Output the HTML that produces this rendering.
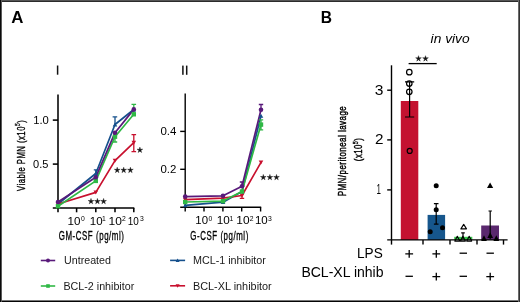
<!DOCTYPE html>
<html><head><meta charset="utf-8">
<style>
html,body{margin:0;padding:0;background:#fff;}
body{width:520px;height:302px;overflow:hidden;}
svg{display:block;will-change:transform;font-family:"Liberation Sans",sans-serif;}
</style></head>
<body>
<svg width="520" height="302" viewBox="0 0 520 302">
<defs>
<path id="st" d="M0.00,-3.00 L0.62,-0.85 L2.85,-0.93 L1.00,0.32 L1.76,2.43 L0.00,1.05 L-1.76,2.43 L-1.00,0.32 L-2.85,-0.93 L-0.62,-0.85Z" fill="#111" stroke="#111" stroke-width="0.4" stroke-linejoin="round"/>
</defs>
<rect x="0" y="0" width="520" height="302" fill="#fff"/>
<!-- borders -->
<g shape-rendering="crispEdges">
<rect x="0" y="0" width="520" height="1" fill="#555"/>
<rect x="0" y="1" width="520" height="1" fill="#2b2b2b"/>
<rect x="0" y="300" width="520" height="1" fill="#777"/>
<rect x="0" y="301" width="520" height="1" fill="#050505"/>
<rect x="1" y="0" width="1" height="302" fill="#5a5a5a"/>
<rect x="0" y="0" width="1" height="302" fill="#0a0a0a"/>
<rect x="518" y="0" width="1" height="302" fill="#6a6a6a"/>
<rect x="519" y="0" width="1" height="302" fill="#333"/>
</g>

<!-- ===== Chart I ===== -->
<rect x="56.85" y="65.5" width="1.5" height="9.2" fill="#111"/>
<rect x="182.15" y="65.6" width="1.5" height="9.2" fill="#111"/>
<rect x="185.95" y="65.6" width="1.5" height="9.2" fill="#111"/>
<g stroke="#000" stroke-width="1.55" fill="none">
  <line x1="58" y1="94.4" x2="58" y2="208"/>
  <line x1="52.8" y1="208" x2="134.3" y2="208"/>
  <line x1="52.8" y1="120.1" x2="58" y2="120.1"/>
  <line x1="52.8" y1="164.1" x2="58" y2="164.1"/>
  <line x1="58" y1="208" x2="58" y2="212.3"/>
  <line x1="76.6" y1="208" x2="76.6" y2="212.3"/>
  <line x1="95.8" y1="208" x2="95.8" y2="212.3"/>
  <line x1="115" y1="208" x2="115" y2="212.3"/>
  <line x1="133.8" y1="208" x2="133.8" y2="212.3"/>
</g>
<!-- data lines chart I -->
<g fill="none" stroke-width="1.7" stroke-linejoin="round">
  <polyline stroke="#15508c" points="58,204 95.8,173.5 115,124.5 133.8,109.5"/>
  <polyline stroke="#c8102e" points="58,204 95.8,192.4 115,160.6 133.8,142.6"/>
  <polyline stroke="#2fb845" points="58,206.2 95.8,180.9 115,136.7 133.8,114.3"/>
  <polyline stroke="#58197a" points="58,202 95.8,177.2 115,132.7 133.8,109.4"/>
</g>
<!-- error bars chart I -->
<g fill="none" stroke-width="1.3">
  <path stroke="#c8102e" d="M133.8,134.7V151.6M131.5,134.7H136.1M131.5,151.6H136.1"/>
  <path stroke="#2fb845" d="M133.8,104.4V114M131.5,104.4H136.1M115,136.7V142M112.8,142H117.2"/>
  <path stroke="#15508c" d="M115,116.8V124.5M112.6,116.8H117.2M95.8,169.8V173.5M93.8,169.8H97.8"/>
</g>
<!-- markers chart I -->
<g>
  <path fill="#15508c" d="M93.5,175.4H98.1L95.8,171.5Z M112.7,126.4H117.3L115,122.5Z M131.5,111.4H136.1L133.8,107.5Z"/>
  <path fill="#c8102e" d="M93.5,190.6H98.1L95.8,194.5Z M112.7,158.8H117.3L115,162.7Z M131.5,140.8H136.1L133.8,144.7Z M55.7,202.2H60.3L58,206.1Z"/>
  <rect fill="#2fb845" x="55.8" y="204" width="4.4" height="4.4"/>
  <rect fill="#2fb845" x="93.6" y="178.7" width="4.4" height="4.4"/>
  <rect fill="#2fb845" x="112.8" y="134.5" width="4.4" height="4.4"/>
  <rect fill="#2fb845" x="131.6" y="112.1" width="4.4" height="4.4"/>
  <circle fill="#58197a" cx="58" cy="202" r="2.3"/>
  <circle fill="#58197a" cx="95.8" cy="177.2" r="2.3"/>
  <circle fill="#58197a" cx="115" cy="132.7" r="2.3"/>
  <circle fill="#58197a" cx="133.8" cy="109.4" r="2.3"/>
</g>
<use href="#st" x="91" y="201.4"/><use href="#st" x="97.4" y="201.4"/><use href="#st" x="103.6" y="201.4"/>
<use href="#st" x="117.2" y="170.2"/><use href="#st" x="123.7" y="170.2"/><use href="#st" x="130.4" y="170.2"/>
<use href="#st" x="139.9" y="150.1"/>

<!-- ===== Chart II ===== -->
<g stroke="#000" stroke-width="1.4" fill="none">
  <line x1="185.2" y1="93.6" x2="185.2" y2="207.3"/>
  <line x1="180.2" y1="207.3" x2="261.2" y2="207.3"/>
  <line x1="180.2" y1="131.4" x2="185.2" y2="131.4"/>
  <line x1="180.2" y1="169.3" x2="185.2" y2="169.3"/>
  <line x1="185.2" y1="207.3" x2="185.2" y2="211.5"/>
  <line x1="204" y1="207.3" x2="204" y2="211.5"/>
  <line x1="222.9" y1="207.3" x2="222.9" y2="211.5"/>
  <line x1="241.7" y1="207.3" x2="241.7" y2="211.5"/>
  <line x1="260.6" y1="207.3" x2="260.6" y2="211.5"/>
</g>
<g fill="none" stroke-width="1.7" stroke-linejoin="round">
  <polyline stroke="#15508c" points="185.2,205.4 223,202.2 242,191.5 261,115.8"/>
  <polyline stroke="#c8102e" points="185.2,199.6 223,198.2 242,195.5 261,162.4"/>
  <polyline stroke="#2fb845" points="185.2,202 223,201.1 242,191.5 261,124.6"/>
  <polyline stroke="#58197a" points="185.2,196.6 223,195.8 242,186.2 261,109.7"/>
</g>
<g fill="none" stroke-width="1.3">
  <path stroke="#c8102e" d="M242,195.7V198.3M239.8,198.3H244.2"/>
  <path stroke="#2fb845" d="M261,119.8V129.8M258.8,119.8H263.2M258.8,129.8H263.2"/>
  <path stroke="#58197a" d="M261,104.5V109.9M258.8,104.5H263.2M242,182V185.8M239.8,182H244.2"/>
</g>
<g>
  <path fill="#15508c" d="M182.9,207.3H187.5L185.2,203.4Z M220.7,204.1H225.3L223,200.2Z M239.7,193.4H244.3L242,189.5Z M258.7,117.7H263.3L261,113.8Z"/>
  <path fill="#c8102e" d="M182.9,197.8H187.5L185.2,201.7Z M220.7,196.4H225.3L223,200.3Z M239.7,193.7H244.3L242,197.6Z M258.7,160.6H263.3L261,164.5Z"/>
  <rect fill="#2fb845" x="183" y="199.8" width="4.4" height="4.4"/>
  <rect fill="#2fb845" x="220.8" y="198.9" width="4.4" height="4.4"/>
  <rect fill="#2fb845" x="239.8" y="189.3" width="4.4" height="4.4"/>
  <rect fill="#2fb845" x="258.8" y="122.4" width="4.4" height="4.4"/>
  <circle fill="#58197a" cx="185.2" cy="196.6" r="2.3"/>
  <circle fill="#58197a" cx="223" cy="195.8" r="2.3"/>
  <circle fill="#58197a" cx="242" cy="186.2" r="2.3"/>
  <circle fill="#58197a" cx="261" cy="109.7" r="2.3"/>
</g>
<use href="#st" x="263.3" y="177.4"/><use href="#st" x="269.9" y="177.4"/><use href="#st" x="276.5" y="177.4"/>

<!-- ===== Legend ===== -->
<g stroke-width="1.6">
  <line x1="40.8" y1="260.5" x2="55.2" y2="260.5" stroke="#58197a"/>
  <line x1="40.8" y1="286" x2="55.2" y2="286" stroke="#2fb845"/>
  <line x1="170.1" y1="260.4" x2="185.1" y2="260.4" stroke="#15508c"/>
  <line x1="170.1" y1="285.8" x2="185.1" y2="285.8" stroke="#c8102e"/>
</g>
<circle cx="48" cy="260.5" r="2" fill="#58197a"/>
<rect x="46.2" y="284.2" width="3.6" height="3.6" fill="#2fb845"/>
<path d="M175.6,262H179.6L177.6,258.6Z" fill="#15508c"/>
<path d="M175.6,284.3H179.6L177.6,287.7Z" fill="#c8102e"/>

<!-- ===== Panel B ===== -->
<rect x="400.8" y="101" width="17.5" height="138.9" fill="#c41230"/>
<rect x="427.6" y="214.9" width="17.5" height="25" fill="#16568c"/>
<rect x="454.2" y="236.8" width="18.1" height="3.1" fill="#38c84c"/>
<rect x="481.2" y="225.5" width="17.8" height="14.4" fill="#5a286e"/>
<g stroke="#000" stroke-width="1.4" fill="none">
  <line x1="391.5" y1="65.3" x2="391.5" y2="239.9"/>
  <line x1="387.2" y1="239.9" x2="507.6" y2="239.9"/>
  <line x1="387.2" y1="90.2" x2="391.5" y2="90.2"/>
  <line x1="387.2" y1="139.9" x2="391.5" y2="139.9"/>
  <line x1="387.2" y1="189.9" x2="391.5" y2="189.9"/>
  <line x1="391.5" y1="239.9" x2="391.5" y2="244.6"/>
  <line x1="423" y1="239.9" x2="423" y2="244.6"/>
  <line x1="450" y1="239.9" x2="450" y2="244.6"/>
  <line x1="477" y1="239.9" x2="477" y2="244.6"/>
  <line x1="503.5" y1="239.9" x2="503.5" y2="244.6"/>
</g>
<g stroke="#000" stroke-width="1.2" fill="none">
  <path d="M409.6,81.9V117M405,81.9H414.2M405,117H414.2"/>
  <path d="M436.2,203.6V224.1M433.9,203.6H438.5M433.9,224.1H438.5"/>
  <path d="M463,232.8V239M461.2,232.8H464.8"/>
  <path d="M490.2,211V239M488.5,211H491.9"/>
</g>
<g fill="none" stroke="#000" stroke-width="1.2">
  <circle cx="409.3" cy="72.2" r="2.75"/>
  <circle cx="409.3" cy="83.6" r="2.75"/>
  <circle cx="409.3" cy="91.8" r="2.75"/>
  <circle cx="409.7" cy="150.9" r="2.5"/>
</g>
<g fill="#000">
  <circle cx="436.2" cy="185.7" r="2.5"/>
  <circle cx="436.2" cy="209.8" r="2.5"/>
  <circle cx="430.2" cy="231.7" r="2.5"/>
  <circle cx="442.5" cy="227.8" r="2.5"/>
</g>
<g fill="none" stroke="#000" stroke-width="1.1" stroke-linejoin="round">
  <path d="M463.7,224.4L466.5,228.9H460.9Z" fill="#fff"/>
  <path d="M457.3,236.2L459.8,241.1H454.8Z"/>
  <path d="M462.9,236.2L465.4,241.1H460.4Z"/>
  <path d="M469.2,236.2L471.7,241.1H466.7Z"/>
</g>
<g fill="#000">
  <path d="M490.1,182.6L493.2,187.9H487Z"/>
  <path d="M484,235.3L486.9,241H481.1Z"/>
  <path d="M490.2,232.3L493.1,238H487.3Z"/>
  <path d="M496.3,235.3L499.2,241H493.4Z"/>
</g>
<line x1="408.6" y1="63.6" x2="436.7" y2="63.6" stroke="#000" stroke-width="1.3"/>
<use href="#st" x="418.5" y="58.7"/><use href="#st" x="425.5" y="58.7"/>
<g stroke="#000" stroke-width="1.3">
  <path d="M405.3,253.9H413.1M409.2,250V257.8"/>
  <path d="M432.4,253.9H440.2M436.3,250V257.8"/>
  <path d="M459.6,253.2H467"/>
  <path d="M486.5,253.2H493.9"/>
  <path d="M405.5,276.3H412.9"/>
  <path d="M432.4,276.7H440.2M436.3,272.8V280.6"/>
  <path d="M459.6,276.3H467"/>
  <path d="M486.3,276.7H494.1M490.2,272.8V280.6"/>
</g>

<text transform="translate(11.17,22.70) scale(1.0522,1)" font-size="16" font-weight="bold" fill="#000" >A</text>
<text transform="translate(320.71,22.50) scale(0.9743,1)" font-size="16" font-weight="bold" fill="#000" >B</text>
<text transform="translate(33.21,123.90) scale(1.0449,1)" font-size="10.8" fill="#000" >1.0</text>
<text transform="translate(33.06,167.90) scale(1.0219,1)" font-size="10.8" fill="#000" >0.5</text>
<text transform="translate(160.44,134.70) scale(1.1065,1)" font-size="10.4" fill="#000" >0.4</text>
<text transform="translate(160.44,172.90) scale(1.1010,1)" font-size="10.4" fill="#000" >0.2</text>
<text transform="translate(67.50,224.80) scale(1.0562,1)" font-size="11" fill="#000" >10</text>
<text transform="translate(89.80,224.80) scale(1.0472,1)" font-size="11" fill="#000" >10</text>
<text transform="translate(108.47,224.80) scale(1.0920,1)" font-size="11" fill="#000" >10</text>
<text transform="translate(127.63,224.80) scale(0.9040,1)" font-size="11" fill="#000" >10</text>
<text transform="translate(81.02,220.90) scale(1.0000,1)" font-size="6.8" fill="#000" >0</text>
<text transform="translate(101.99,220.90) scale(1.0000,1)" font-size="6.8" fill="#000" >1</text>
<text transform="translate(121.99,220.90) scale(1.0000,1)" font-size="6.8" fill="#000" >2</text>
<text transform="translate(140.05,220.90) scale(1.0000,1)" font-size="6.8" fill="#000" >3</text>
<text transform="translate(195.31,224.40) scale(1.0383,1)" font-size="11" fill="#000" >10</text>
<text transform="translate(216.79,224.40) scale(1.0651,1)" font-size="11" fill="#000" >10</text>
<text transform="translate(236.37,224.40) scale(1.0830,1)" font-size="11" fill="#000" >10</text>
<text transform="translate(254.90,224.40) scale(1.0472,1)" font-size="11" fill="#000" >10</text>
<text transform="translate(208.42,220.50) scale(1.0000,1)" font-size="6.8" fill="#000" >0</text>
<text transform="translate(229.59,220.50) scale(1.0000,1)" font-size="6.8" fill="#000" >1</text>
<text transform="translate(249.64,220.50) scale(1.0000,1)" font-size="6.8" fill="#000" >2</text>
<text transform="translate(267.90,220.50) scale(1.0000,1)" font-size="6.8" fill="#000" >3</text>
<text transform="translate(58.77,240.30) scale(0.6310,1)" font-size="12.5" fill="#000" letter-spacing="0.9" stroke="#000" stroke-width="0.28" vector-effect="non-scaling-stroke">GM-CSF (pg/ml)</text>
<text transform="translate(190.37,240.30) scale(0.6297,1)" font-size="12.5" fill="#000" letter-spacing="0.9" stroke="#000" stroke-width="0.28" vector-effect="non-scaling-stroke">G-CSF (pg/ml)</text>
<text transform="translate(24.60,190.94) rotate(-90) scale(0.6724,1)" font-size="11.5" fill="#000" letter-spacing="0.7" stroke="#000" stroke-width="0.32" vector-effect="non-scaling-stroke">Viable PMN (x10<tspan font-size="7.5" dy="-4.2">5</tspan><tspan dy="4.2">)</tspan></text>
<text transform="translate(64.01,264.30) scale(0.9991,1)" font-size="10.7" fill="#1a1a1a" >Untreated</text>
<text transform="translate(63.47,289.80) scale(1.0015,1)" font-size="10.7" fill="#1a1a1a" >BCL-2 inhibitor</text>
<text transform="translate(192.97,264.30) scale(1.0069,1)" font-size="10.7" fill="#1a1a1a" >MCL-1 inhibitor</text>
<text transform="translate(192.96,289.80) scale(1.0176,1)" font-size="10.7" fill="#1a1a1a" >BCL-XL inhibitor</text>
<text transform="translate(430.62,43.20) scale(1.0213,1)" font-size="13.5" font-style="italic" fill="#000" >in vivo</text>
<text transform="translate(357.01,257.50) scale(0.9527,1)" font-size="14.3" fill="#000" >LPS</text>
<text transform="translate(301.38,277.30) scale(0.9824,1)" font-size="14.3" fill="#000" >BCL-XL inhib</text>
<text transform="translate(346.20,196.29) rotate(-90) scale(0.6757,1)" font-size="11.8" fill="#000" letter-spacing="0.7" stroke="#000" stroke-width="0.4" vector-effect="non-scaling-stroke">PMN/peritoneal lavage</text>
<text transform="translate(362.40,161.18) rotate(-90) scale(0.6608,1)" font-size="11.8" fill="#000" letter-spacing="0.7" stroke="#000" stroke-width="0.4" vector-effect="non-scaling-stroke">(x10<tspan font-size="8" dy="-4.5">5</tspan><tspan dy="4.5">)</tspan></text>
<text transform="translate(374.79,94.60) scale(1.1173,1)" font-size="14" fill="#000" >3</text>
<text transform="translate(375.02,144.40) scale(1.0920,1)" font-size="14" fill="#000" >2</text>
<text transform="translate(376.48,193.90) scale(0.5684,1)" font-size="14" fill="#000" >1</text>
</svg>
</body></html>
